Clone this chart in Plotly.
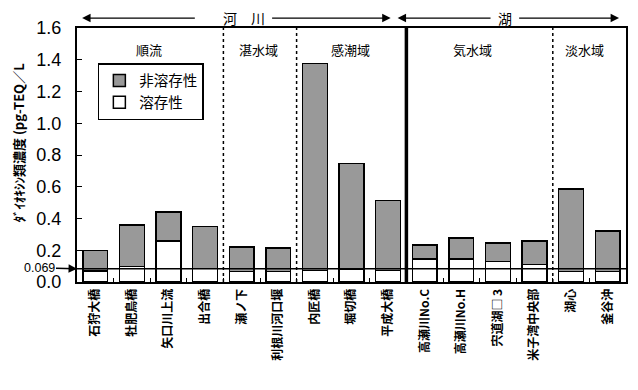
import plotly.graph_objects as go

categories = ["石狩大橋", "牡肥鳥橋", "矢口川上流", "出合橋", "瀬ノ下", "利根川河口堰",
              "内匠橋", "堀切橋", "平成大橋", "高瀬川No.C", "高瀬川No.H", "宍道湖□ 3",
              "米子湾中央部", "湖心", "釜谷沖"]
total = [0.20, 0.36, 0.44, 0.35, 0.22, 0.215, 1.375, 0.748, 0.513, 0.234, 0.277, 0.246, 0.259, 0.587, 0.32]
dissolved = [0.070, 0.097, 0.259, 0.085, 0.066, 0.066, 0.073, 0.081, 0.073, 0.145, 0.145, 0.128, 0.110, 0.066, 0.066]
particulate = [round(t - d, 3) for t, d in zip(total, dissolved)]
ref_label = "0.069"
ref_line_y = 0.083
y_ticks = [0.0, 0.2, 0.4, 0.6, 0.8, 1.0, 1.2, 1.4, 1.6]
sections = [("順流", 1.48), ("湛水域", 4.46), ("感潮域", 6.96), ("気水域", 10.3), ("淡水域", 13.36)]

JP = "Noto Sans CJK JP"
LAT = "Liberation Sans, Arial"
xs = list(range(len(categories)))

fig = go.Figure()
fig.add_trace(go.Bar(x=xs, y=dissolved, name="溶存性", width=0.68,
                     marker=dict(color="white", line=dict(color="black", width=1.5))))
fig.add_trace(go.Bar(x=xs, y=particulate, name="非溶存性", width=0.68,
                     marker=dict(color="#999999", line=dict(color="black", width=1.5))))

shapes = []
for xb, dash, w in [(3.5, "dot", 1.5), (5.5, "dot", 1.5), (12.5, "dot", 1.5), (8.5, "solid", 3.5)]:
    shapes.append(dict(type="line", xref="x", yref="paper", x0=xb, x1=xb, y0=0, y1=1,
                       line=dict(color="black", width=w, dash=dash), layer="above"))
shapes.append(dict(type="line", xref="paper", yref="y", x0=0, x1=1, y0=ref_line_y, y1=ref_line_y,
                   line=dict(color="black", width=1.5), layer="above"))

annotations = []
for name, xc in sections:
    annotations.append(dict(x=xc, y=0.915, xref="x", yref="paper", text=name, showarrow=False,
                            yanchor="middle", xanchor="center",
                            font=dict(family=JP, size=13, color="black")))
hy = 1.039
# (tip, tail) in category-axis units
arrow_defs = [(-0.36, 2.76), (8.07, 4.79), (8.26, 10.84), (14.31, 11.54)]
for tip, tail in arrow_defs:
    annotations.append(dict(x=tip, y=hy, xref="x", yref="paper", ax=tail, ay=0, axref="x", ayref="pixel",
                            text="", showarrow=True, arrowhead=2, arrowsize=1.3, arrowwidth=1.3,
                            arrowcolor="black"))
annotations.append(dict(x=4.06, y=hy, xref="x", yref="paper", text="河　川", showarrow=False,
                        yanchor="middle", xanchor="center",
                        font=dict(family=JP, size=14, color="black")))
annotations.append(dict(x=11.2, y=hy, xref="x", yref="paper", text="湖", showarrow=False,
                        yanchor="middle", xanchor="center",
                        font=dict(family=JP, size=14, color="black")))
annotations.append(dict(x=-0.5, y=ref_line_y, xref="x", yref="y", ax=-38, ay=-1, text=ref_label,
                        showarrow=True, arrowhead=2, arrowsize=1.3, arrowwidth=1.3, arrowcolor="black",
                        font=dict(family=LAT, size=12.5, color="black"), xanchor="center"))
annotations.append(dict(x=(18 - 77) / 551.0, y=0.55, xref="paper", yref="paper",
                        text="ﾀﾞｲｵｷｼﾝ類濃度 (pg-TEQ／L",
                        showarrow=False, textangle=-90, xanchor="center", yanchor="middle",
                        font=dict(family=JP, size=13, color="black", weight="bold")))

fig.update_layout(
    width=630, height=382,
    margin=dict(l=69, r=10, t=16, b=108),
    paper_bgcolor="white", plot_bgcolor="white",
    barmode="stack",
    showlegend=True,
    legend=dict(x=0.038, y=0.862, xanchor="left", yanchor="top", traceorder="reversed",
                bordercolor="black", borderwidth=1.5, bgcolor="white",
                font=dict(family=JP, size=14.5, color="black"),
                itemwidth=30, tracegroupgap=0),
    xaxis=dict(range=[-0.5, len(categories) - 0.5], tickmode="array", tickvals=xs, ticktext=categories,
               tickangle=-90, ticks="", tickcolor="black",
               showline=True, linecolor="black", linewidth=2, mirror=True, showgrid=False,
               tickfont=dict(family=JP, size=12, color="black", weight="bold"), zeroline=False,
               minor=dict(tickvals=[i + 0.5 for i in range(len(categories) - 1)], ticks="inside",
                          ticklen=4, tickcolor="black")),
    yaxis=dict(range=[0, 1.6], tickmode="array", tickvals=y_ticks, ticktext=[f"{v:.1f}" for v in y_ticks],
               ticks="inside", ticklen=5, tickcolor="black",
               showline=True, linecolor="black", linewidth=2, mirror=True, showgrid=False,
               tickfont=dict(family=LAT, size=18, color="black"), zeroline=False,
               ticklabelstandoff=10),
    shapes=shapes, annotations=annotations,
)

fig.write_html("out.html")
